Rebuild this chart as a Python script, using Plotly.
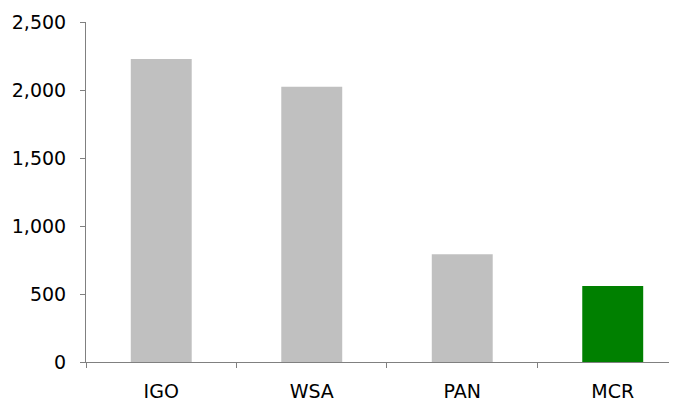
import plotly.graph_objects as go

categories = ["IGO", "WSA", "PAN", "MCR"]
values = [2228, 2023, 793, 558]
bar_colors = ["#C0C0C0", "#C0C0C0", "#C0C0C0", "#008000"]
y_ticks = [0, 500, 1000, 1500, 2000, 2500]

fig = go.Figure(
    go.Bar(x=categories, y=values, marker=dict(color=bar_colors, line=dict(width=0)), width=0.405)
)

font = dict(family="DejaVu Sans, Verdana, sans-serif", size=19, color="#000000")

# page body has an 8px default margin; compensate so the plot area lands where the reference has it
fig.update_layout(
    width=677, height=401,
    margin=dict(l=78, r=8, t=14, b=47),
    paper_bgcolor="white", plot_bgcolor="white",
    showlegend=False,
    font=font,
)
fig.update_xaxes(
    range=[-0.5, 3.427], automargin=False,
    showline=True, linecolor="#808080", linewidth=1,
    ticks="outside", tickson="boundaries", ticklen=5, tickcolor="#808080",
    showgrid=False, zeroline=False, tickfont=font,
    ticklabelstandoff=12,
)
fig.update_yaxes(
    range=[0, 2500], tickvals=y_ticks, tickformat=",", automargin=False,
    showline=True, linecolor="#808080", linewidth=1,
    ticks="outside", ticklen=5, tickcolor="#808080",
    showgrid=False, zeroline=False, tickfont=font,
    ticklabelstandoff=10,
)

fig.write_html("out.html")
